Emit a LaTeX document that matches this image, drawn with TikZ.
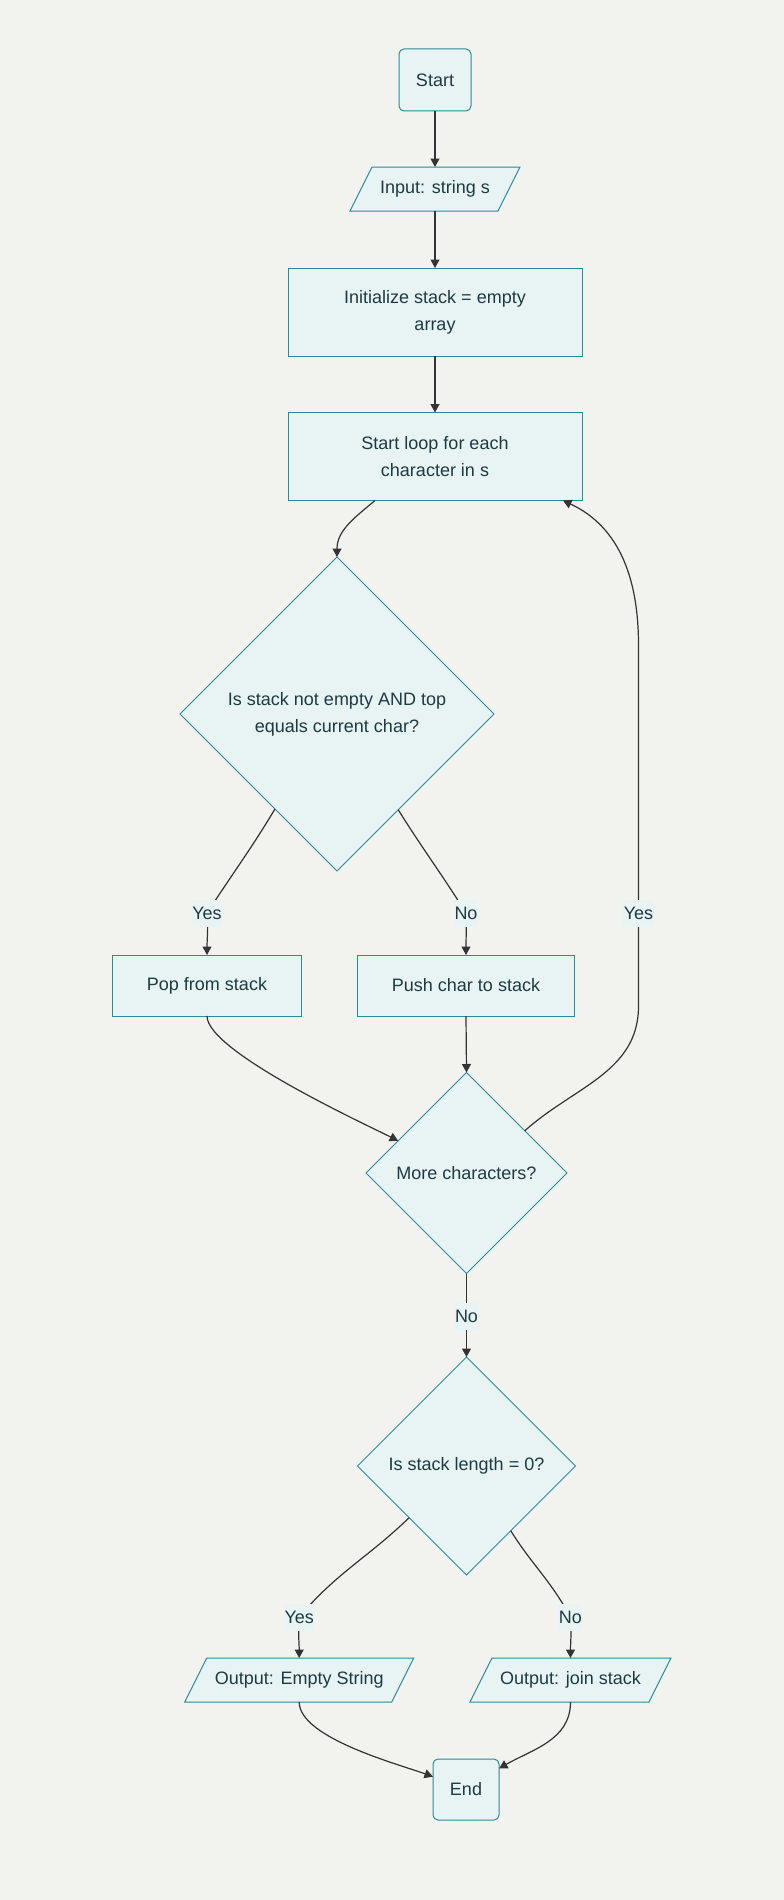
\documentclass[tikz,border=0pt]{standalone}
\usepackage{fontspec}
\setmainfont{Liberation Sans}
\usetikzlibrary{shapes.geometric,arrows.meta,calc,backgrounds}
\definecolor{bgc}{HTML}{F2F3EE}
\definecolor{nfill}{HTML}{E8F4F4}
\definecolor{nborder}{HTML}{2B8A9A}
\definecolor{ntext}{HTML}{1F3A3F}
\definecolor{ecol}{HTML}{333333}
\tikzset{
  base/.style={font=\fontsize{18}{27}\selectfont, text=ntext, align=center, inner sep=0pt, outer sep=0pt},
  procbox/.style={base, rectangle, draw=nborder, fill=nfill, line width=1pt},
  termbox/.style={procbox, rounded corners=5pt},
  iobox/.style={base, rectangle, minimum height=44pt},
  iodraw/.style={draw=nborder, fill=nfill, line width=1pt},
  decbox/.style={base, diamond, draw=nborder, fill=nfill, line width=1pt},
  flow/.style={draw=ecol, line width=1.2pt, -{Triangle[length=8.5pt,width=9pt]}},
  elabel/.style={base, fill=nfill, minimum height=27pt, inner xsep=0.5pt}
}
\begin{document}
\begin{tikzpicture}[x=1pt,y=1pt]
\useasboundingbox (0,0) rectangle (784,-1900);

% nodes
\node[termbox, minimum width=72pt, minimum height=62pt] (start) at (435,-80) {Start};
\node[iobox, minimum width=170pt] (inp) at (435,-189) {Input: string s};
\node[procbox, minimum width=294pt, minimum height=88pt] (init) at (435,-312) {Initialize stack = empty\\array};
\node[procbox, minimum width=294pt, minimum height=88pt] (loop) at (435,-456.5) {Start loop for each\\character in s};
\node[decbox, minimum width=314pt, minimum height=314pt] (chk) at (337,-714) {Is stack not empty AND top\\equals current char?};
\node[procbox, minimum width=189pt, minimum height=61pt] (pop) at (207,-985.5) {Pop from stack};
\node[procbox, minimum width=217pt, minimum height=61pt] (push) at (466,-985.5) {Push char to stack};
\node[decbox, minimum width=201pt, minimum height=201pt] (more) at (466.5,-1173) {More characters?};
\node[decbox, minimum width=218pt, minimum height=218pt] (len) at (466.5,-1466) {Is stack length = 0?};
\node[iobox, minimum width=229pt] (oute) at (299.2,-1680) {Output: Empty String};
\node[iobox, minimum width=201pt] (outj) at (570.5,-1680) {Output: join stack};
\node[termbox, minimum width=66pt, minimum height=61pt] (end) at (466,-1789.5) {End};

\begin{scope}[on background layer]
\fill[bgc] (0,0) rectangle (784,-1900);
\foreach \n in {inp,oute,outj}{
  \draw[iodraw] ([xshift=22pt]\n.north west) -- (\n.north east) -- ([xshift=-22pt]\n.south east) -- (\n.south west) -- cycle;
}
\end{scope}

% label positions and waypoints
\coordinate (cy1) at (207,-913);
\coordinate (cn1) at (466,-913);
\coordinate (cyr) at (638.5,-913);
\coordinate (cn2) at (466.5,-1316);
\coordinate (cy2) at (299.3,-1617);
\coordinate (cn3) at (570.3,-1617);
\coordinate (wr1) at (638.5,-1006);
\coordinate (wr2) at (638.5,-645);

% connectors
\draw[flow] (start.south) -- (inp.north);
\draw[flow] (inp.south) -- (init.north);
\draw[flow] (init.south) -- (loop.north);
\draw[flow] ([xshift=-60pt]loop.south) to[out=-140,in=90] (chk.north);
\draw[flow] ($(chk.west)!0.605!(chk.south)$) to[out=-121,in=57] (cy1) to[out=-85,in=90] (pop.north);
\draw[flow] ($(chk.south)!0.39!(chk.east)$) to[out=-58,in=122] (cn1) to[out=-88,in=90] (push.north);
\draw[flow] (pop.south) to[out=-90,in=153,looseness=0.4] ($(more.west)!0.32!(more.north)$);
\draw[flow] (push.south) -- (more.north);
\draw[flow] ($(more.north)!0.58!(more.east)$) to[out=42,in=-90] (wr1) -- (wr2) to[out=90,in=-25] ([xshift=-19pt]loop.south east);
\draw[flow] (more.south) -- (len.north);
\draw[flow] ($(len.west)!0.474!(len.south)$) to[out=-136,in=50] (cy2) to[out=-95,in=90] (oute.north);
\draw[flow] ($(len.south)!0.406!(len.east)$) to[out=-58,in=118] (cn3) to[out=-85,in=90] (outj.north);
\draw[flow] (oute.south) to[out=-90,in=160,looseness=0.6] ([yshift=12.8pt]end.west);
\draw[flow] (outj.south) to[out=-90,in=30] ([yshift=21pt]end.east);

% labels
\node[elabel] (ly1) at (cy1) {Yes};
\node[elabel] (ln1) at (cn1) {No};
\node[elabel] (lyr) at (cyr) {Yes};
\node[elabel] (ln2) at (cn2) {No};
\node[elabel] (ly2) at (cy2) {Yes};
\node[elabel] (ln3) at (cn3) {No};
\end{tikzpicture}
\end{document}
